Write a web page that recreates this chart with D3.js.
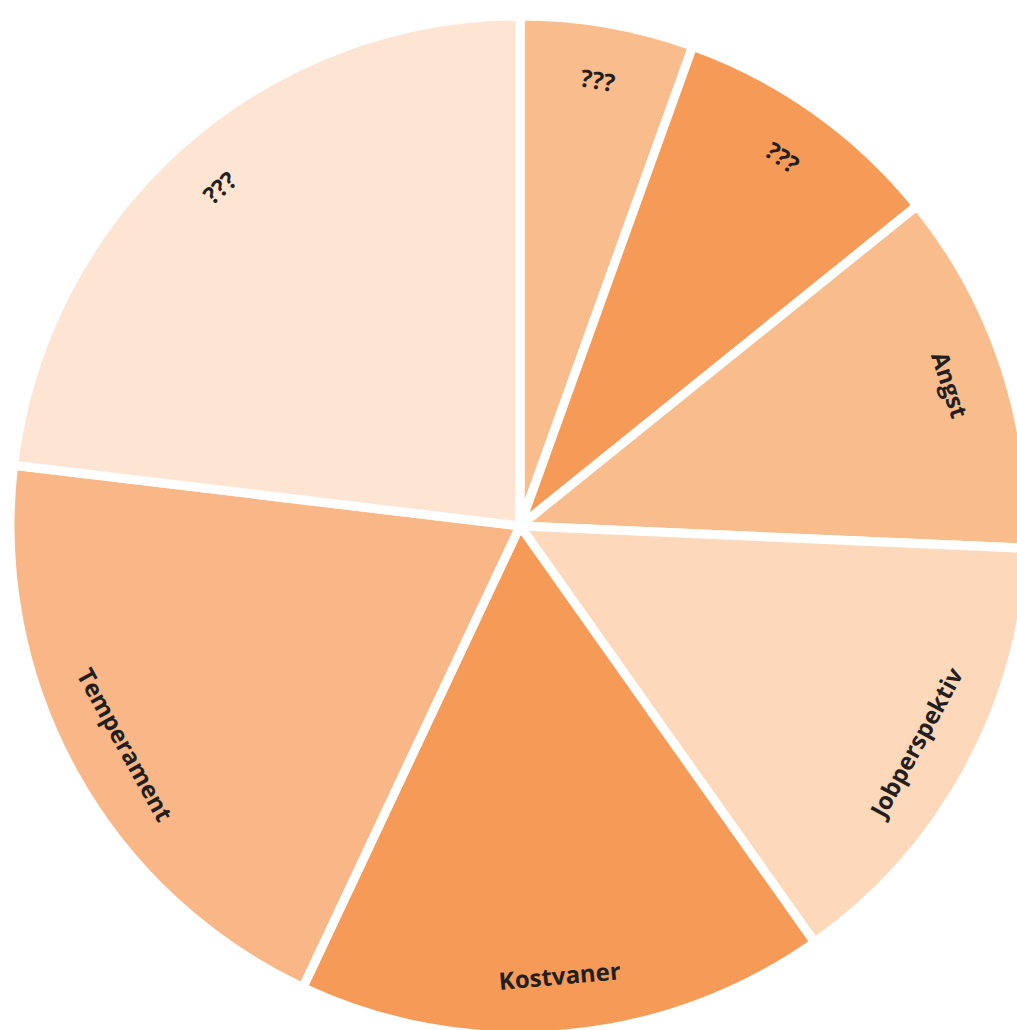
<!DOCTYPE html>
<html>
<head>
<meta charset="utf-8">
<script src="https://cdn.jsdelivr.net/npm/d3@7"></script>
<style>
  html, body { margin: 0; padding: 0; background: #fff; }
  svg { display: block; }
</style>
</head>
<body>
<div id="chart"></div>
<script>
// slices, clockwise from 12 o'clock
var labels = ["???", "???", "Angst", "Jobperspektiv", "Kostvaner", "Temperament", "???"];
var values = [5.5, 8.7, 11.5, 14.5, 16.8, 19.9, 23.1];
var sliceColors = ["#f9bc8c", "#f69a58", "#f9bc8c", "#fdd8bb", "#f69a58", "#f9b787", "#fee4d2"];

var width = 1017, height = 1030;
var cx = 520, cy = 526;
var radius = 510;
var labelRadius = 452;

var svg = d3.select("#chart")
  .append("svg")
  .attr("width", width)
  .attr("height", height);

var g = svg.append("g")
  .attr("transform", "translate(" + cx + "," + cy + ")");

var data = labels.map(function(d, i) { return { label: d, value: values[i], idx: i }; });

var color = d3.scaleOrdinal()
  .domain(d3.range(labels.length))
  .range(sliceColors);

var pie = d3.pie()
  .sort(null)
  .value(function(d) { return d.value; });

var arc = d3.arc()
  .innerRadius(0)
  .outerRadius(radius);

var arcs = pie(data);

// slices, white stroke makes the gaps
g.selectAll("path.slice")
  .data(arcs)
  .enter()
  .append("path")
    .attr("class", "slice")
    .attr("d", arc)
    .attr("fill", function(d) { return color(d.data.idx); })
    .attr("stroke", "#fff")
    .attr("stroke-width", 9)
    .attr("stroke-linejoin", "miter");

// labels, rotated along the slice's mid angle
g.selectAll("text.label")
  .data(arcs)
  .enter()
  .append("text")
    .attr("class", "label")
    .attr("transform", function(d) {
      var a = (d.startAngle + d.endAngle) / 2;
      var deg = a * 180 / Math.PI;
      var x = labelRadius * Math.sin(a);
      var y = -labelRadius * Math.cos(a);
      var rot = (deg > 90 && deg < 270) ? deg - 180 : deg;
      return "translate(" + x + "," + y + ") rotate(" + rot + ")";
    })
    .attr("text-anchor", "middle")
    .attr("dy", "0.35em")
    .style("font-family", "'Open Sans', sans-serif")
    .style("font-weight", 700)
    .style("font-size", "24px")
    .style("fill", "#231f20")
    .text(function(d) { return d.data.label; });
</script>
</body>
</html>
